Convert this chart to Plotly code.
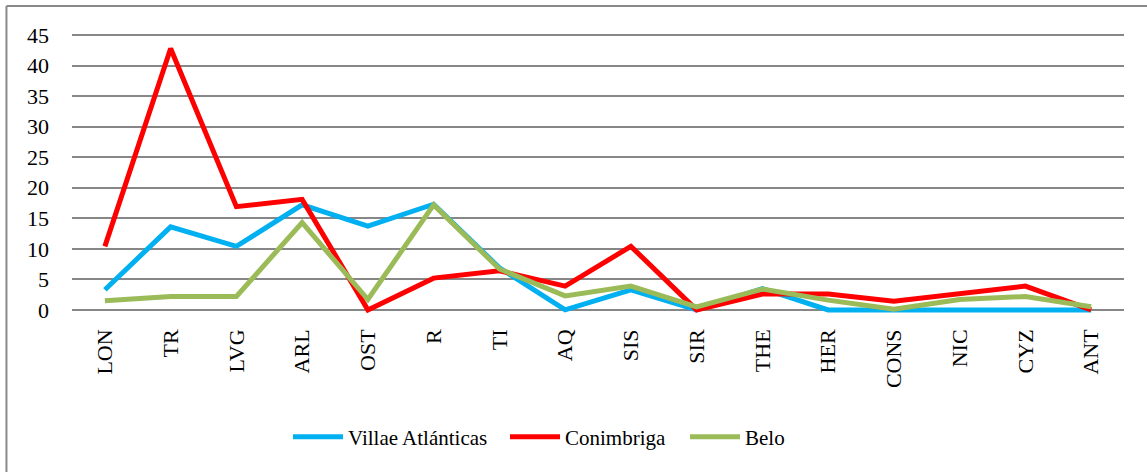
import plotly.graph_objects as go

# Site codes along the horizontal axis
sites = ["LON", "TR", "LVG", "ARL", "OST", "R", "TI", "AQ", "SIS", "SIR",
         "THE", "HER", "CONS", "NIC", "CYZ", "ANT"]

# Percentages per site for each assemblage
villae_atlanticas = [3.3, 13.6, 10.4, 17.2, 13.7, 17.3, 6.9, 0.0, 3.3, 0.0,
                     3.5, 0.0, 0.0, 0.0, 0.0, 0.0]
conimbriga = [10.4, 42.8, 16.9, 18.1, 0.0, 5.2, 6.4, 3.9, 10.4, 0.0,
              2.6, 2.6, 1.4, 2.6, 3.9, 0.0]
belo = [1.5, 2.2, 2.2, 14.3, 1.7, 17.2, 6.7, 2.3, 3.9, 0.5,
        3.4, 1.6, 0.1, 1.7, 2.2, 0.5]

y_ticks = [0, 5, 10, 15, 20, 25, 30, 35, 40, 45]

FONT = "Liberation Serif"
BORDER = "#898989"

fig = go.Figure()
series = [
    ("Villae Atlánticas", villae_atlanticas, "#00B0F0", "legend", 0.2053),
    ("Conimbriga", conimbriga, "#FF0000", "legend2", 0.4116),
    ("Belo", belo, "#9BBB59", "legend3", 0.5827),
]
legend_style = dict(
    orientation="h", xanchor="left", y=-0.426, yanchor="middle",
    font=dict(family=FONT, size=21), itemwidth=50,
    bgcolor="rgba(0,0,0,0)", borderwidth=0,
)
legends = {}
for name, vals, color, leg, lx in series:
    fig.add_trace(go.Scatter(
        x=sites, y=vals, name=name, mode="lines", legend=leg,
        line=dict(color=color, width=5, shape="linear"),
    ))
    legends[leg] = dict(legend_style, x=lx)

fig.update_layout(
    width=1147, height=472,
    margin=dict(l=72, r=23, t=32, b=156, autoexpand=False),
    paper_bgcolor="white", plot_bgcolor="white",
    font=dict(family=FONT, size=21, color="#000000"),
    showlegend=True,
    **legends,
    shapes=[
        # chart frame: top and left edges
        dict(type="line", xref="paper", yref="paper",
             x0=-0.0623, x1=1.03, y0=1.0915, y1=1.0915,
             line=dict(color=BORDER, width=2)),
        dict(type="line", xref="paper", yref="paper",
             x0=-0.0623, x1=-0.0623, y0=1.0915, y1=-0.56,
             line=dict(color=BORDER, width=2)),
    ],
)

fig.update_xaxes(
    type="category", range=[-0.5, len(sites) - 0.5],
    showgrid=False, zeroline=False, showline=False,
    tickangle=-90, ticks="", tickfont=dict(family=FONT, size=22),
    ticklabelstandoff=8,
)
fig.update_yaxes(
    range=[-1, 45.5], tickvals=y_ticks,
    showgrid=True, gridcolor="#878787", gridwidth=2,
    zeroline=False, showline=False, ticks="",
    tickfont=dict(family=FONT, size=22),
    ticklabelstandoff=22,
)

fig.write_html("out.html")
